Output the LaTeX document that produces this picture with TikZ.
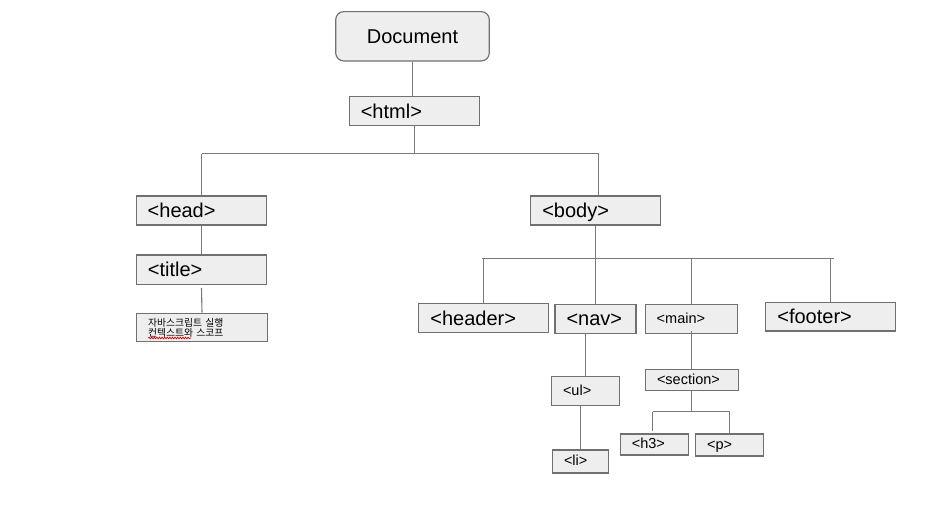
\documentclass[tikz,border=0pt]{standalone}
\usepackage{fontspec}
\setmainfont{Liberation Sans}
\newfontfamily\korfont{Noto Sans CJK KR}
\usetikzlibrary{decorations.pathmorphing}
\definecolor{boxfill}{HTML}{EEEEEE}
\definecolor{boxline}{HTML}{707070}
\definecolor{connline}{HTML}{7A7A7A}
\tikzset{
  boxbase/.style={draw=boxline, line width=1.15pt, fill=boxfill, inner xsep=11.5pt, inner ysep=0pt, align=left, anchor=center, text=black},
  bigbox/.style={boxbase, font=\fontsize{20}{22}\selectfont, text height=18pt, text depth=3.6pt},
  smallbox/.style={boxbase, font=\fontsize{14.5}{16}\selectfont, text height=12pt, text depth=3.4pt},
  korbox/.style={boxbase, font=\korfont\fontsize{9.8}{9.8}\selectfont},
  docbox/.style={draw=boxline, line width=1.15pt, fill=boxfill, rounded corners=8pt, align=center, font=\fontsize{20}{22}\selectfont, text height=18pt, text depth=3.6pt},
  conn/.style={draw=connline, line width=1.1pt},
}
\begin{document}
\begin{tikzpicture}[x=1pt,y=-1pt]
\useasboundingbox (0,0) rectangle (936,508);
\fill[white] (0,0) rectangle (936,508);

% nodes
\node[docbox, minimum width=153.6pt, minimum height=49.3pt] (doc) at (412.5,36.3) {Document};
\node[bigbox, text width=107pt, minimum height=29pt] (html) at (414.3,110.8) {<html>};
\node[bigbox, text width=107.6pt, minimum height=29pt] (head) at (201.5,210.5) {<head>};
\node[bigbox, text width=107.3pt, minimum height=29.3pt] (title) at (201.5,269.7) {<title>};
\node[korbox, text width=108pt, minimum height=28.4pt] (kor) at (202,327.5) {자바스크립트 실행\\컨텍스트와 스코프};
\node[bigbox, text width=106.5pt, minimum height=29pt] (body) at (595.5,210.5) {<body>};
\node[bigbox, text width=106.3pt, minimum height=29pt] (header) at (483.5,317.8) {<header>};
\node[bigbox, text width=58pt, minimum height=29pt] (nav) at (595.5,318.7) {<nav>};
\node[smallbox, text width=69.6pt, minimum height=28.3pt] (main) at (691.5,319) {<main>};
\node[bigbox, text width=106.3pt, minimum height=28.7pt] (footer) at (830.5,316.7) {<footer>};
\node[smallbox, text width=45pt, minimum height=29pt] (ul) at (585.5,391.2) {<ul>};
\node[smallbox, text width=33pt, minimum height=23pt] (li) at (580.5,461.5) {<li>};
\node[smallbox, text width=70pt, minimum height=21.4pt] (section) at (692,380) {<section>};
\node[smallbox, text width=45pt, minimum height=21pt] (h3) at (654.3,444.5) {<h3>};
\node[smallbox, text width=44.7pt, minimum height=22pt] (p) at (729.5,445) {<p>};

% junction coordinates
\coordinate (jh) at (414.5,153.5);
\coordinate (jhl) at (201.5,153.5);
\coordinate (jhr) at (598.5,153.5);
\coordinate (jb) at (595.5,258.5);
\coordinate (jbl) at (481.7,258.5);
\coordinate (jbr) at (834.3,258.5);
\coordinate (js) at (691.5,411.5);
\coordinate (jsl) at (652.5,411.5);
\coordinate (jsr) at (729.5,411.5);

% connectors
\draw[conn] (doc.south) -- (doc.south |- html.north);
\draw[conn] (html.south -| jh) -- (jh);
\draw[conn] (jhl) -- (jhr);
\draw[conn] (jhl) -- (jhl |- head.north);
\draw[conn] (jhr) -- (jhr |- body.north);
\draw[conn] (head.south) -- (title.north);
\draw[conn] ([yshift=-3pt]title.south) -- (kor.north);
\draw[conn] (body.south -| jb) -- (jb);
\draw[conn] (jbl) -- (jbr);
\draw[conn] (header.north |- jb) -- (header.north);
\draw[conn] (nav.north |- jb) -- (nav.north);
\draw[conn] (main.north |- jb) -- (main.north);
\draw[conn] (footer.north |- jb) -- (footer.north);
\draw[conn] (ul.north |- nav.south) -- (ul.north);
\draw[conn] (li.north |- ul.south) -- (li.north);
\draw[conn] ([yshift=3pt]main.south) -- (main.south |- section.north);
\draw[conn] (section.south -| js) -- (js);
\draw[conn] (jsl) -- (jsr);
\draw[conn] (jsl) -- ([yshift=2.5pt]jsl |- h3.north);
\draw[conn] (jsr) -- (jsr |- p.north);

% spell-check squiggle under the second Korean line
\draw[red!85!black, line width=0.7pt, decorate, decoration={snake, amplitude=0.8pt, segment length=2.6pt}] (148.3,338) -- (191,338);
\end{tikzpicture}
\end{document}
